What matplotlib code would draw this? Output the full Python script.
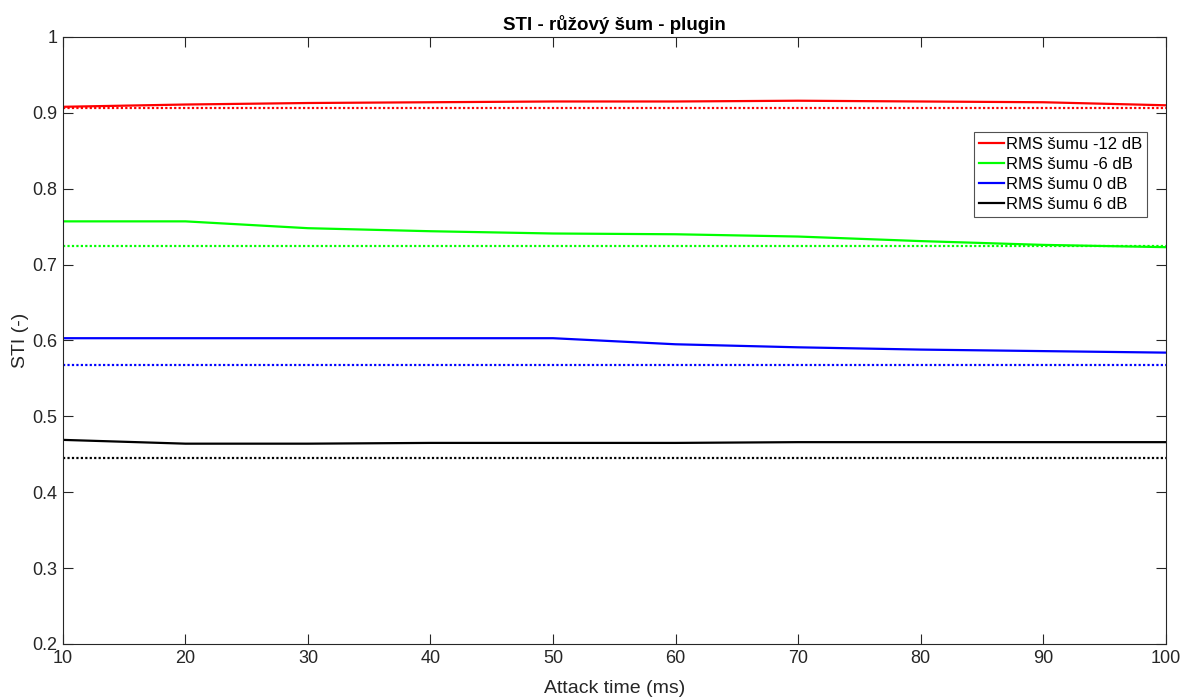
import matplotlib.pyplot as plt

plt.rcParams['font.family'] = ['Liberation Sans', 'DejaVu Sans']

attack = [10, 20, 30, 40, 50, 60, 70, 80, 90, 100]

sti_m12 = [0.908, 0.911, 0.913, 0.914, 0.915, 0.915, 0.916, 0.915, 0.914, 0.910]
sti_m6 = [0.757, 0.757, 0.748, 0.744, 0.741, 0.740, 0.737, 0.731, 0.726, 0.723]
sti_0 = [0.603, 0.603, 0.603, 0.603, 0.603, 0.595, 0.591, 0.588, 0.586, 0.584]
sti_6 = [0.469, 0.464, 0.464, 0.465, 0.465, 0.465, 0.466, 0.466, 0.466, 0.466]

# reference STI without plugin (dotted)
ref_m12 = 0.906
ref_m6 = 0.724
ref_0 = 0.568
ref_6 = 0.445

labels = ["RMS šumu -12 dB", "RMS šumu -6 dB", "RMS šumu 0 dB", "RMS šumu 6 dB"]
colors = ["#ff0000", "#00ff00", "#0000ff", "#000000"]

fig = plt.figure(figsize=(11.87, 6.98), dpi=100)
ax = fig.add_axes([0.053, 0.0774, 0.929, 0.8696])

for vals, ref, lab, c in zip([sti_m12, sti_m6, sti_0, sti_6],
                             [ref_m12, ref_m6, ref_0, ref_6], labels, colors):
    ax.plot(attack, vals, color=c, lw=1.6, label=lab)
    ax.hlines(ref, attack[0], attack[-1], colors=c, linestyles=(0, (1, 1)), lw=1.6)

ax.set_xlim(10, 100)
ax.set_ylim(0.2, 1)
ax.set_xticks(attack)
ax.set_yticks([0.2, 0.3, 0.4, 0.5, 0.6, 0.7, 0.8, 0.9, 1])
ax.set_yticklabels(["0.2", "0.3", "0.4", "0.5", "0.6", "0.7", "0.8", "0.9", "1"])
ax.tick_params(direction="in", top=True, right=True, labelsize=13,
               colors="#262626", length=7, pad=4)
for s in ax.spines.values():
    s.set_color("#262626")
    s.set_linewidth(0.8)

ax.set_title("STI - růžový šum - plugin", fontsize=13.5, fontweight="bold", pad=5)
ax.set_xlabel("Attack time (ms)", fontsize=14, color="#262626", labelpad=10)
ax.set_ylabel("STI (-)", fontsize=14, color="#262626", labelpad=2)

leg = ax.legend(loc="upper right", bbox_to_anchor=(0.9835, 0.8435), fontsize=12,
                frameon=True, fancybox=False, edgecolor="#262626",
                handlelength=1.5, handletextpad=0.15, labelspacing=0.3,
                borderpad=0.3, borderaxespad=0)
leg.get_frame().set_linewidth(0.8)

fig.savefig("out.png", dpi=100)
